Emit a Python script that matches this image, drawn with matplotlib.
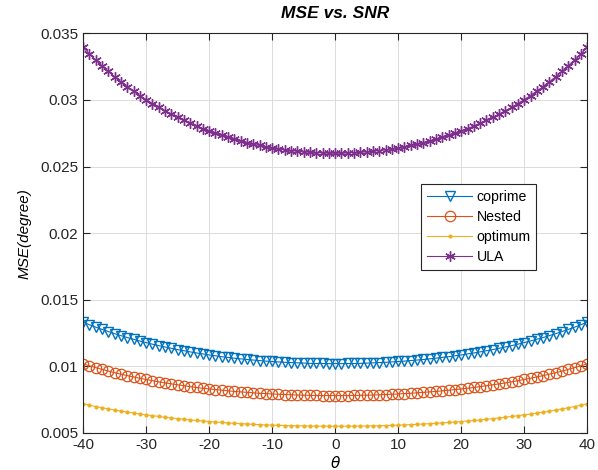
import matplotlib
matplotlib.use("Agg")
import matplotlib.pyplot as plt

plt.rcParams['font.family'] = ['Liberation Sans', 'DejaVu Sans']
plt.rcParams['axes.unicode_minus'] = False

theta = list(range(-40, 41))

# half-values for theta = 0..40 (curves are symmetric)
ula_pos = [0.02600, 0.02600, 0.02602, 0.02604, 0.02606, 0.02610, 0.02614, 0.02620, 0.02626, 0.02632,
           0.02640, 0.02649, 0.02658, 0.02668, 0.02680, 0.02692, 0.02705, 0.02719, 0.02734, 0.02750,
           0.02767, 0.02785, 0.02804, 0.02825, 0.02846, 0.02869, 0.02893, 0.02918, 0.02945, 0.02973,
           0.03002, 0.03033, 0.03066, 0.03100, 0.03136, 0.03174, 0.03214, 0.03256, 0.03299, 0.03346,
           0.03394]
coprime_pos = [0.01020, 0.01020, 0.01021, 0.01021, 0.01022, 0.01024, 0.01026, 0.01028, 0.01030, 0.01033,
               0.01036, 0.01039, 0.01043, 0.01047, 0.01051, 0.01056, 0.01061, 0.01067, 0.01072, 0.01079,
               0.01085, 0.01093, 0.01100, 0.01108, 0.01117, 0.01125, 0.01135, 0.01145, 0.01155, 0.01166,
               0.01178, 0.01190, 0.01203, 0.01216, 0.01230, 0.01245, 0.01261, 0.01277, 0.01294, 0.01312,
               0.01332]
nested_pos = [0.00780, 0.00780, 0.00780, 0.00781, 0.00782, 0.00783, 0.00784, 0.00786, 0.00788, 0.00790,
              0.00792, 0.00795, 0.00797, 0.00801, 0.00804, 0.00808, 0.00811, 0.00816, 0.00820, 0.00825,
              0.00830, 0.00835, 0.00841, 0.00847, 0.00854, 0.00861, 0.00868, 0.00875, 0.00883, 0.00892,
              0.00901, 0.00910, 0.00920, 0.00930, 0.00941, 0.00952, 0.00964, 0.00977, 0.00990, 0.01004,
              0.01018]
optimum_pos = [0.00550, 0.00550, 0.00550, 0.00551, 0.00551, 0.00552, 0.00553, 0.00554, 0.00555, 0.00557,
               0.00558, 0.00560, 0.00562, 0.00564, 0.00567, 0.00569, 0.00572, 0.00575, 0.00578, 0.00582,
               0.00585, 0.00589, 0.00593, 0.00597, 0.00602, 0.00607, 0.00612, 0.00617, 0.00623, 0.00629,
               0.00635, 0.00642, 0.00649, 0.00656, 0.00663, 0.00671, 0.00680, 0.00689, 0.00698, 0.00708,
               0.00718]

ula = ula_pos[:0:-1] + ula_pos
coprime = coprime_pos[:0:-1] + coprime_pos
nested = nested_pos[:0:-1] + nested_pos
optimum = optimum_pos[:0:-1] + optimum_pos

labels = ['coprime', 'Nested', 'optimum', 'ULA']
xticks = [-40, -30, -20, -10, 0, 10, 20, 30, 40]
yticks = [0.005, 0.01, 0.015, 0.02, 0.025, 0.03, 0.035]
ytick_labels = ['0.005', '0.01', '0.015', '0.02', '0.025', '0.03', '0.035']

fig = plt.figure(figsize=(5.98, 4.70), dpi=100)
ax = fig.add_axes([0.139, 0.079, 0.843, 0.850])

lw = 0.8
ax.plot(theta, coprime, color='#0072BD', lw=lw, marker='v', ms=7.5, mfc='none', mew=1.0, label=labels[0])
ax.plot(theta, nested, color='#D95319', lw=lw, marker='o', ms=7.5, mfc='none', mew=0.9, label=labels[1])
ax.plot(theta, optimum, color='#EDB120', lw=lw, marker='.', ms=4, label=labels[2])
ax.plot(theta, ula, color='#7E2F8E', lw=lw, marker=(6, 2, 0), ms=7.5, mew=1.0, label=labels[3])

ax.set_xlim(-40, 40)
ax.set_ylim(0.005, 0.035)
ax.set_xticks(xticks)
ax.set_yticks(yticks)
ax.set_yticklabels(ytick_labels)
ax.tick_params(direction='in', labelsize=11, length=5, width=0.8, top=True, right=True,
               colors='#262626', labelcolor='#262626')
ax.grid(True, color='#dcdcdc', lw=0.7)
ax.set_axisbelow(True)
for s in ax.spines.values():
    s.set_color('#262626')
    s.set_linewidth(0.8)

ax.set_title('MSE vs. SNR', fontsize=12.5, fontweight='bold', style='italic', pad=11)
ax.set_xlabel(r'$\theta$', fontsize=11, labelpad=2)
ax.set_ylabel('MSE(degree)', fontsize=11, style='italic', labelpad=6)

leg = ax.legend(loc='upper left', bbox_to_anchor=(0.671, 0.622), fontsize=10.2,
                frameon=True, fancybox=False, edgecolor='#262626', framealpha=1,
                handlelength=3.2, handletextpad=0.3, borderpad=0.4, labelspacing=0.42,
                borderaxespad=0)
leg.get_frame().set_linewidth(0.8)

fig.savefig('out.png', dpi=100)
